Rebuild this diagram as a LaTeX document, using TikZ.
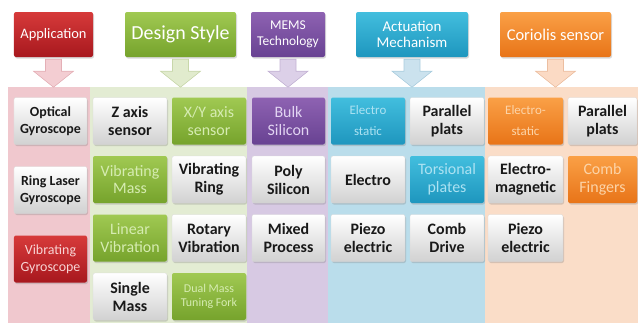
\documentclass[tikz,border=0pt]{standalone}
\usepackage{fontspec}
\setmainfont{Carlito}
\usetikzlibrary{shadows,calc}
% bands
\definecolor{bPink}{RGB}{240,200,206}
\definecolor{bGreen}{RGB}{227,236,211}
\definecolor{bPurple}{RGB}{215,201,227}
\definecolor{bBlue}{RGB}{186,221,235}
\definecolor{bPeach}{RGB}{250,221,200}
% arrows
\definecolor{aPink}{RGB}{243,205,210}
\definecolor{aPinkD}{RGB}{228,175,182}
\definecolor{aGreen}{RGB}{225,235,205}
\definecolor{aGreenD}{RGB}{200,215,170}
\definecolor{aPurple}{RGB}{220,208,232}
\definecolor{aPurpleD}{RGB}{195,178,212}
\definecolor{aBlue}{RGB}{203,226,238}
\definecolor{aBlueD}{RGB}{170,205,222}
\definecolor{aPeach}{RGB}{251,218,196}
\definecolor{aPeachD}{RGB}{236,190,160}
% solid fills
\definecolor{rA}{RGB}{214,58,58}
\definecolor{rB}{RGB}{168,24,30}
\definecolor{gA}{RGB}{160,201,82}
\definecolor{gB}{RGB}{118,163,44}
\definecolor{pA}{RGB}{142,98,178}
\definecolor{pB}{RGB}{104,66,146}
\definecolor{cA}{RGB}{66,190,222}
\definecolor{cB}{RGB}{30,150,190}
\definecolor{oA}{RGB}{250,160,70}
\definecolor{oB}{RGB}{232,116,24}
% faded texts
\definecolor{tR}{RGB}{248,212,212}
\definecolor{tG}{RGB}{214,236,178}
\definecolor{tP}{RGB}{226,212,242}
\definecolor{tC}{RGB}{172,226,242}
\definecolor{tO}{RGB}{252,212,168}
\tikzset{
  box/.style={rounded corners=2bp, inner sep=1bp, align=center,
    drop shadow={shadow xshift=1bp, shadow yshift=-1.5bp, opacity=0.3}},
  head/.style={box, minimum height=45bp, text=white},
  cell/.style={box, minimum height=47bp, minimum width=74bp,
    font=\fontsize{16}{18}\selectfont},
  wcell/.style={cell, top color=white, bottom color=black!18, text=black!90, draw=black!15, line width=0.3bp,
    font=\fontsize{16}{18}\selectfont\bfseries},
  rcell/.style={cell, top color=rA, bottom color=rB, text=tR},
  gcell/.style={cell, top color=gA, bottom color=gB, text=tG},
  pcell/.style={cell, top color=pA, bottom color=pB, text=tP},
  ccell/.style={cell, top color=cA, bottom color=cB, text=tC},
  ocell/.style={cell, top color=oA, bottom color=oB, text=tO},
  small/.style={font=\fontsize{13}{21}\selectfont},
  apfont/.style={font=\fontsize{14}{17}\selectfont\bfseries},
  apfontr/.style={font=\fontsize{14}{17}\selectfont},
}
\newcommand\blockarrow[3]{%
  \filldraw[fill=#2, draw=#3, line width=0.6bp]
    ($(#1.south)+(-8,2)$) -- ($(#1.south)+(8,2)$) -- ($(#1.south)+(8,14)$)
    -- ($(#1.south)+(20,14)$) -- ($(#1.south)+(0,30)$) -- ($(#1.south)+(-20,14)$)
    -- ($(#1.south)+(-8,14)$) -- cycle;}
\begin{document}
\begin{tikzpicture}[x=1bp,y=-1bp]
\useasboundingbox (0,0) rectangle (638,329);
% background bands
\fill[bPink]   (8,87) rectangle (90,323);
\fill[bGreen]  (90,87) rectangle (247,323);
\fill[bPurple] (247,87) rectangle (328,323);
\fill[bBlue]   (328,87) rectangle (485,323);
\fill[bPeach]  (485,87) rectangle (638,323);
% headers
\node[head, top color=rA, bottom color=rB, minimum width=79bp, font=\fontsize{14.5}{17}\selectfont] (app) at (53.5,34.5) {Application};
\node[head, top color=gA, bottom color=gB, minimum width=111bp, font=\fontsize{20}{22}\selectfont] (des) at (180.5,34.5) {Design Style};
\node[head, top color=pA, bottom color=pB, minimum width=74bp, font=\fontsize{13.5}{16}\selectfont] (mems) at (288,34.5) {MEMS\\Technology};
\node[head, top color=cA, bottom color=cB, minimum width=112bp, font=\fontsize{15}{16}\selectfont] (act) at (412,34.5) {Actuation\\Mechanism};
\node[head, top color=oA, bottom color=oB, minimum width=111bp, font=\fontsize{16.5}{18}\selectfont] (cor) at (555.5,34.5) {Coriolis sensor};
% arrows
\blockarrow{app}{aPink}{aPinkD}
\blockarrow{des}{aGreen}{aGreenD}
\blockarrow{mems}{aPurple}{aPurpleD}
\blockarrow{act}{aBlue}{aBlueD}
\blockarrow{cor}{aPeach}{aPeachD}
% application column
\node[wcell, apfont, minimum width=73bp] (opt) at (50.5,121) {Optical\\Gyroscope};
\node[wcell, apfont, minimum width=73bp] (ring) at (50.5,190) {Ring Laser\\Gyroscope};
\node[rcell, apfontr, minimum width=73bp] (vgyro) at (50.5,259) {Vibrating\\Gyroscope};
% design style
\node[wcell] (zaxis) at (130,121) {Z axis\\sensor};
\node[gcell] (xyaxis) at (209,121) {X/Y axis\\sensor};
\node[gcell] (vmass) at (130,179.5) {Vibrating\\Mass};
\node[wcell] (vring) at (209,179.5) {Vibrating\\Ring};
\node[gcell] (linvib) at (130,238) {Linear\\Vibration};
\node[wcell] (rotvib) at (209,238) {Rotary\\Vibration};
\node[wcell] (single) at (130,296.5) {Single\\Mass};
\node[gcell, font=\fontsize{12}{14}\selectfont] (dual) at (209,296.5) {Dual Mass\\Tuning Fork};
% MEMS technology
\node[pcell, minimum width=73bp] (bulk) at (288.5,121) {Bulk\\Silicon};
\node[wcell, minimum width=73bp] (poly) at (288.5,179.5) {Poly\\Silicon};
\node[wcell, minimum width=73bp] (mixed) at (288.5,238) {Mixed\\Process};
% actuation
\node[ccell, small] (estat) at (368,121) {Electro\\static};
\node[wcell] (ppl1) at (447,121) {Parallel\\plats};
\node[wcell] (electro) at (368,179.5) {Electro};
\node[ccell] (tors) at (447,179.5) {Torsional\\plates};
\node[wcell] (piezo1) at (368,238) {Piezo\\electric};
\node[wcell] (comb) at (447,238) {Comb\\Drive};
% coriolis sensor
\node[ocell, small, minimum width=75bp] (estat2) at (525.5,121) {Electro-\\static};
\node[wcell, minimum width=69bp] (ppl2) at (602.5,121) {Parallel\\plats};
\node[wcell, minimum width=75bp] (emag) at (525.5,179.5) {Electro-\\magnetic};
\node[ocell, minimum width=69bp] (fingers) at (602.5,179.5) {Comb\\Fingers};
\node[wcell, minimum width=75bp] (piezo2) at (525.5,238) {Piezo\\electric};
\end{tikzpicture}
\end{document}
